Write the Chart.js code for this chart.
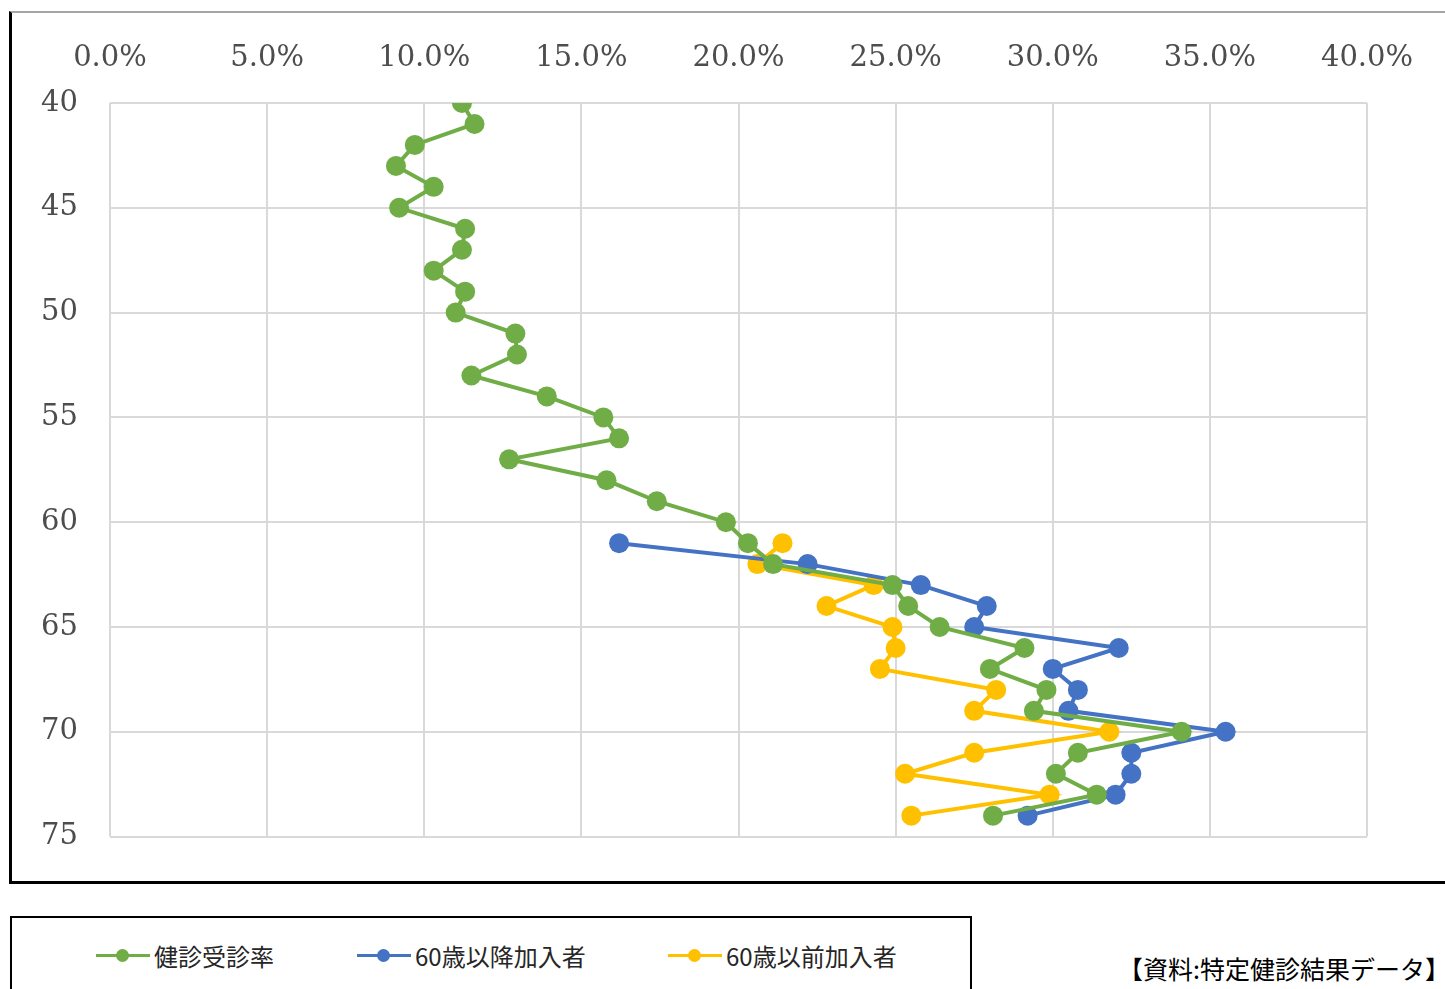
<!DOCTYPE html>
<html>
<head>
<meta charset="utf-8">
<script src="https://cdn.jsdelivr.net/npm/chart.js@4"></script>
<style>
  html, body { margin: 0; padding: 0; background: #fff; overflow: hidden; }
  body { width: 1445px; height: 989px; position: relative; }
  #frame {
    position: absolute; left: 9px; top: 11px; width: 1440px; height: 868px;
    border-top: 2px solid #a6a6a6; border-left: 3px solid #000; border-bottom: 3px solid #000;
  }
  #chart { position: absolute; left: 12px; top: 14px; }
  #legend {
    position: absolute; left: 10px; top: 916px; width: 958px; height: 90px;
    border: 2px solid #000; font-family: "Noto Sans CJK JP", sans-serif; font-size: 24px; color: #262626;
  }
  .item { position: absolute; top: 19px; height: 36px; display: flex; align-items: center; }
  .sw { position: relative; width: 54px; height: 36px; margin-right: 4px; }
  .sw .ln { position: absolute; left: 0; right: 0; top: 17px; height: 3px; }
  .sw .dot { position: absolute; left: 20px; top: 12px; width: 13px; height: 13px; border-radius: 50%; }
  #source {
    position: absolute; left: 1118px; top: 950px; white-space: nowrap;
    font-family: "Noto Sans CJK JP", sans-serif; font-size: 25px; color: #000;
  }
</style>
</head>
<body>
<div id="frame"></div>
<canvas id="chart" width="1433" height="872"></canvas>
<div id="legend"></div>
<div id="source">【資料:特定健診結果データ】</div>
<script>
/* ---------------------------
    DATA
------------------------------ */
const agesAll = [40, 41, 42, 43, 44, 45, 46, 47, 48, 49, 50, 51, 52, 53, 54, 55, 56, 57,
                 58, 59, 60, 61, 62, 63, 64, 65, 66, 67, 68, 69, 70, 71, 72, 73, 74];
const kenshinRate = [11.2, 11.6, 9.7, 9.1, 10.3, 9.2, 11.3, 11.2, 10.3, 11.3, 11.0, 12.9, 12.95, 11.5,
                     13.9, 15.7, 16.2, 12.7, 15.8, 17.4, 19.6, 20.3, 21.1, 24.9, 25.4, 26.4,
                     29.1, 28.0, 29.8, 29.4, 34.1, 30.8, 30.1, 31.4, 28.1];

const ages60 = [61, 62, 63, 64, 65, 66, 67, 68, 69, 70, 71, 72, 73, 74];
const joinedAfter60 = [16.2, 22.2, 25.8, 27.9, 27.5, 32.1, 30.0, 30.8, 30.5, 35.5, 32.5, 32.5, 32.0, 29.2];
const joinedBefore60 = [21.4, 20.6, 24.3, 22.8, 24.9, 25.0, 24.5, 28.2, 27.5, 31.8, 27.5, 25.3, 29.9, 25.5];

const xTicks = [0, 5, 10, 15, 20, 25, 30, 35, 40];
const yTicks = [40, 45, 50, 55, 60, 65, 70, 75];

const seriesNames = ["健診受診率", "60歳以降加入者", "60歳以前加入者"];
const seriesColors = ["#70AD47", "#4472C4", "#FFC000"];

/* ---------------------------
    BUILD DATASETS
------------------------------ */
function toPoints(ages, values) {
    return ages.map((a, i) => ({ x: values[i], y: a }));
}

const seriesData = [
    toPoints(agesAll, kenshinRate),
    toPoints(ages60, joinedAfter60),
    toPoints(ages60, joinedBefore60)
];

const datasets = seriesData.map((pts, i) => ({
    label: seriesNames[i],
    data: pts,
    showLine: true,
    borderColor: seriesColors[i],
    backgroundColor: seriesColors[i],
    borderWidth: 4,
    pointRadius: 10,
    pointHoverRadius: 10,
    pointBorderWidth: 0
}));

const tickFont = { family: "DejaVu Serif", size: 29 };

new Chart(document.getElementById("chart"), {
    type: "scatter",
    data: { datasets },
    options: {
        responsive: false,
        animation: false,
        layout: { padding: { left: 0, top: 0, right: 78, bottom: 30 } },
        plugins: { legend: { display: false }, tooltip: { enabled: false } },
        scales: {
            x: {
                type: "linear",
                position: "top",
                min: 0,
                max: 40,
                afterBuildTicks: s => { s.ticks = xTicks.map(v => ({ value: v })); },
                afterFit: s => { s.height = 89; },
                grid: { color: "#d9d9d9", lineWidth: 2, drawTicks: false },
                border: { display: false },
                ticks: {
                    padding: 27,
                    color: "#4d4d4d",
                    font: tickFont,
                    callback: v => v.toFixed(1) + "%"
                }
            },
            y: {
                type: "linear",
                reverse: true,
                min: 40,
                max: 75,
                afterBuildTicks: s => { s.ticks = yTicks.map(v => ({ value: v })); },
                afterFit: s => { s.width = 98; },
                grid: { color: "#d9d9d9", lineWidth: 2, drawTicks: false },
                border: { display: false },
                ticks: { padding: 32, color: "#4d4d4d", font: tickFont }
            }
        }
    }
});

/* ---------------------------
    LEGEND (HTML)
------------------------------ */
const legendBox = document.getElementById("legend");
const legendLeft = [84, 345, 656];
seriesNames.forEach((name, i) => {
    const item = document.createElement("div");
    item.className = "item";
    item.style.left = legendLeft[i] + "px";
    item.innerHTML =
        '<div class="sw"><div class="ln" style="background:' + seriesColors[i] + '"></div>' +
        '<div class="dot" style="background:' + seriesColors[i] + '"></div></div>' +
        '<span>' + name + '</span>';
    legendBox.appendChild(item);
});
</script>
</body>
</html>
